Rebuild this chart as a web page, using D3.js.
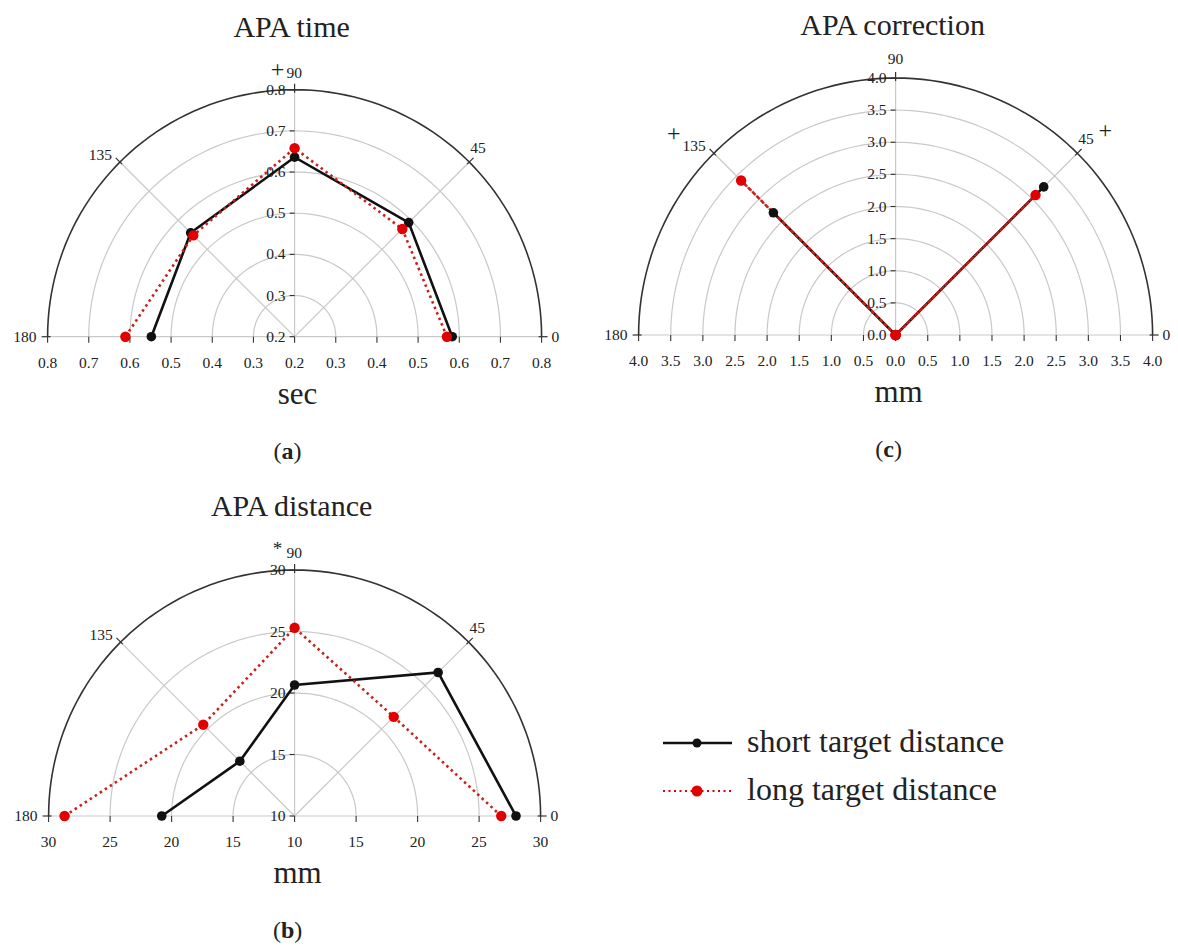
<!DOCTYPE html>
<html>
<head>
<meta charset="utf-8">
<script src="https://cdn.jsdelivr.net/npm/d3@7"></script>
<style>
  body { margin: 0; background: #fff; }
  svg, text { font-family: "Liberation Serif", "Times New Roman", serif; fill: #222; }
</style>
</head>
<body>
<div id="chart"></div>
<script>
    var width = 1178;
    var height = 947;

    // angles of the spokes, degrees
    var angles = [0, 45, 90, 135, 180];

    // APA time (sec)
    var timeShort = [0.583, 0.592, 0.636, 0.557, 0.548];
    var timeLong  = [0.570, 0.570, 0.658, 0.548, 0.611];
    var timeTicks = [0.2, 0.3, 0.4, 0.5, 0.6, 0.7, 0.8];

    // APA distance (mm)
    var distShort = [28.0, 26.5, 20.65, 16.3, 20.8];
    var distLong  = [26.8, 21.4, 25.3, 20.5, 28.7];
    var distTicks = [10, 15, 20, 25, 30];

    // APA correction (mm)
    var corrShort = [0, 3.26, 0, 2.69, 0];
    var corrLong  = [0, 3.08, 0, 3.40, 0];
    var corrTicks = [0, 0.5, 1.0, 1.5, 2.0, 2.5, 3.0, 3.5, 4.0];

    var legendLabels = ["short target distance", "long target distance"];

    var blackCol = "#111";
    var redLine = "#c8201a";
    var redDot = "#e00000";
    var gridCol = "#c9c9c9";

    var svg = d3.select("#chart")
                .append("svg")
                .attr("width", width)
                .attr("height", height)
                .attr("font-family", "'Liberation Serif', serif");

    // draws one half polar chart
    var drawPolar = function(p) {
        var g = svg.append("g");
        var r = d3.scaleLinear().domain(d3.extent(p.ticks)).range([0, p.R]);
        var pt = function(a, v) {
            var t = a * Math.PI / 180;
            return [p.cx + r(v) * Math.cos(t), p.cy - r(v) * Math.sin(t)];
        };
        var rmax = p.ticks[p.ticks.length - 1];
        var arc = function(v) {
            return d3.line()(d3.range(0, 181, 2).map(function(a) { return pt(a, v); }));
        };

        // grid rings
        p.ticks.slice(1, -1).forEach(function(v) {
            g.append("path").attr("d", arc(v)).attr("fill", "none")
             .attr("stroke", gridCol).attr("stroke-width", 1.2);
        });
        // spokes
        [45, 90, 135].forEach(function(a) {
            var e = pt(a, rmax);
            g.append("line").attr("x1", p.cx).attr("y1", p.cy).attr("x2", e[0]).attr("y2", e[1])
             .attr("stroke", gridCol).attr("stroke-width", 1.2);
        });
        // baseline
        g.append("line").attr("x1", p.cx - p.R).attr("x2", p.cx + p.R)
         .attr("y1", p.cy).attr("y2", p.cy).attr("stroke", gridCol).attr("stroke-width", 1.2);
        // outer arc
        g.append("path").attr("d", arc(rmax)).attr("fill", "none")
         .attr("stroke", "#333").attr("stroke-width", 1.6);

        // angular ticks and labels
        angles.forEach(function(a) {
            var t = a * Math.PI / 180;
            var c = Math.cos(t), s = Math.sin(t);
            g.append("line")
             .attr("x1", p.cx + (p.R - 3) * c).attr("y1", p.cy - (p.R - 3) * s)
             .attr("x2", p.cx + (p.R + 6) * c).attr("y2", p.cy - (p.R + 6) * s)
             .attr("stroke", "#333").attr("stroke-width", 1.2);
        });
        var e0 = pt(0, rmax), e45 = pt(45, rmax), e90 = pt(90, rmax), e135 = pt(135, rmax), e180 = pt(180, rmax);
        var angFont = 15.5;
        g.append("text").attr("x", e0[0] + 10).attr("y", e0[1] + 5).attr("font-size", angFont).text("0");
        g.append("text").attr("x", e180[0] - 11).attr("y", e180[1] + 5).attr("text-anchor", "end")
         .attr("font-size", angFont).text("180");
        g.append("text").attr("x", e45[0] + 1).attr("y", e45[1] - 9).attr("font-size", angFont).text("45");
        g.append("text").attr("x", e135[0] - 8).attr("y", e135[1] - 2).attr("text-anchor", "end")
         .attr("font-size", angFont).text("135");
        if (p.mark90) {
            g.append("text").attr("x", p.cx - 8).attr("y", e90[1] - 12).attr("text-anchor", "start")
             .attr("font-size", angFont).text("90");
            g.append("text").attr("x", p.cx - 17).attr("y", e90[1] - (p.mark90 == "*" ? 15 : 13))
             .attr("text-anchor", "middle")
             .attr("font-size", p.mark90 == "*" ? 19 : 24).text(p.mark90);
        } else {
            g.append("text").attr("x", p.cx).attr("y", e90[1] - 14).attr("text-anchor", "middle")
             .attr("font-size", angFont).text("90");
        }
        if (p.mark45) {
            g.append("text").attr("x", e45[0] + 28).attr("y", e45[1] - 15).attr("text-anchor", "middle")
             .attr("font-size", 24).text(p.mark45);
        }
        if (p.mark135) {
            g.append("text").attr("x", e135[0] - 40).attr("y", e135[1] - 12).attr("text-anchor", "middle")
             .attr("font-size", 24).text(p.mark135);
        }

        // radial axis on the 90 spoke
        p.ticks.forEach(function(v) {
            var y = p.cy - r(v);
            g.append("line").attr("x1", p.cx - 5).attr("x2", p.cx).attr("y1", y).attr("y2", y)
             .attr("stroke", "#333").attr("stroke-width", 1.1);
            g.append("text").attr("x", p.cx - 9).attr("y", y + 5).attr("text-anchor", "end")
             .attr("font-size", 15.5).text(p.fmt(v));
        });
        // horizontal axis ticks, mirrored both sides
        p.ticks.forEach(function(v, i) {
            var xs = i == 0 ? [p.cx] : [p.cx - r(v), p.cx + r(v)];
            xs.forEach(function(x) {
                g.append("line").attr("x1", x).attr("x2", x).attr("y1", p.cy).attr("y2", p.cy + 6)
                 .attr("stroke", "#333").attr("stroke-width", 1.1);
                g.append("text").attr("x", x).attr("y", p.cy + 31).attr("text-anchor", "middle")
                 .attr("font-size", 15.5).text(p.fmt(v));
            });
        });

        // title, unit, panel label
        g.append("text").attr("x", p.cx - 3).attr("y", p.cy - 300).attr("text-anchor", "middle")
         .attr("font-size", 30).text(p.title);
        g.append("text").attr("x", p.cx + 3).attr("y", p.cy + 67).attr("text-anchor", "middle")
         .attr("font-size", 31).text(p.unit);
        var pl = g.append("text").attr("x", p.cx - 7).attr("y", p.cy + 122).attr("text-anchor", "middle")
         .attr("font-size", 24);
        pl.append("tspan").text("(");
        pl.append("tspan").attr("font-weight", "bold").text(p.label);
        pl.append("tspan").text(")");

        // data
        var line = d3.line();
        var ptsS = angles.map(function(a, i) { return pt(a, p.short[i]); });
        var ptsL = angles.map(function(a, i) { return pt(a, p.long[i]); });
        g.append("path").attr("d", line(ptsS)).attr("fill", "none")
         .attr("stroke", blackCol).attr("stroke-width", 2.6);
        g.append("path").attr("d", line(ptsL)).attr("fill", "none")
         .attr("stroke", redLine).attr("stroke-width", 2.6).attr("stroke-dasharray", "2.5,3.5");
        g.selectAll(".ds").data(ptsS).enter().append("circle")
         .attr("cx", function(d) { return d[0]; }).attr("cy", function(d) { return d[1]; })
         .attr("r", 4.8).attr("fill", blackCol);
        g.selectAll(".dl").data(ptsL).enter().append("circle")
         .attr("cx", function(d) { return d[0]; }).attr("cy", function(d) { return d[1]; })
         .attr("r", 5.2).attr("fill", redDot);
    };

    drawPolar({cx: 294.6, cy: 336.7, R: 247, ticks: timeTicks, fmt: d3.format(".1f"),
               short: timeShort, long: timeLong, title: "APA time", unit: "sec", label: "a", mark90: "+"});
    drawPolar({cx: 895.6, cy: 335, R: 257, ticks: corrTicks, fmt: d3.format(".1f"),
               short: corrShort, long: corrLong, title: "APA correction", unit: "mm", label: "c",
               mark45: "+", mark135: "+"});
    drawPolar({cx: 294.6, cy: 816, R: 246, ticks: distTicks, fmt: d3.format("d"),
               short: distShort, long: distLong, title: "APA distance", unit: "mm", label: "b", mark90: "*"});

    // legend
    var leg = svg.append("g").attr("transform", "translate(663,743)");
    legendLabels.forEach(function(lab, i) {
        var y = i * 48;
        leg.append("line").attr("x1", 0).attr("x2", 69).attr("y1", y).attr("y2", y)
           .attr("stroke", i == 0 ? blackCol : redDot).attr("stroke-width", i == 0 ? 2.6 : 2)
           .attr("stroke-dasharray", i == 0 ? null : "2,3.5");
        leg.append("circle").attr("cx", 34).attr("cy", y).attr("r", i == 0 ? 4.5 : 5.5)
           .attr("fill", i == 0 ? blackCol : redDot);
        leg.append("text").attr("x", 84).attr("y", y + 9).attr("font-size", 32).text(lab);
    });
</script>
</body>
</html>
